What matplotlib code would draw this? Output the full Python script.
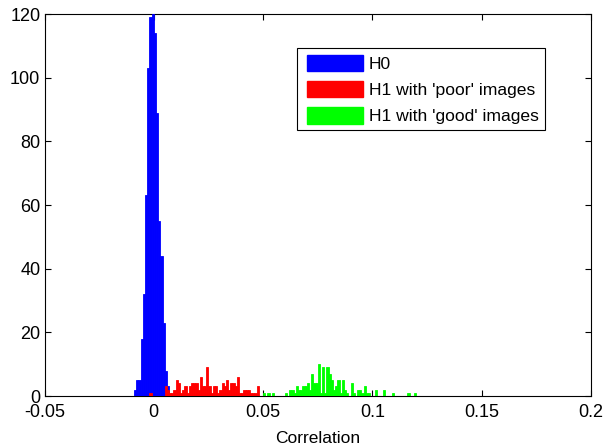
import numpy as np
import matplotlib
matplotlib.use('Agg')
import matplotlib.pyplot as plt
from matplotlib.patches import Patch, Rectangle
from matplotlib.legend_handler import HandlerPatch

plt.rcParams['font.family'] = ['Liberation Sans', 'DejaVu Sans']

# 直方图数据 (bin 宽 0.001, 每组给出第一个 bin 的左边界)
bin_width = 0.001
grid_start = -0.020
grid_stop = 0.150

h0_start = -0.009
h0_counts = [2, 5, 5, 18, 32, 63, 103, 119, 120, 114, 89, 55, 44, 23, 8, 3]

poor_start = -0.002
poor_counts = [1, 0, 0, 0, 0, 0, 0,
               3, 2, 1, 1, 2, 5, 4, 1, 2, 3, 1, 3, 4, 4, 4, 2, 6, 3, 3, 9, 3,
               1, 3, 3, 1, 2, 4, 3, 5, 2, 4, 4, 3, 6, 1, 1, 2, 2, 2, 1, 1, 1, 3]

good_start = 0.050
good_counts = [1, 0, 1, 0, 1, 0, 0, 0, 0, 0, 1, 0, 2, 2, 1, 3, 2, 2, 3, 3,
               4, 2, 7, 4, 4, 10, 1, 9, 1, 9, 7, 5, 2, 3, 5, 1, 5, 2, 1, 0,
               4, 1, 0, 2, 2, 1, 3, 1, 1, 0, 0, 2, 0, 0, 0, 2, 0, 0, 0, 1,
               0, 0, 0, 0, 0, 0, 1, 0, 0, 1]

labels = ['H0', "H1 with 'poor' images", "H1 with 'good' images"]
colors = ['#0000ff', '#ff0000', '#00ff00']

xticks = [-0.05, 0, 0.05, 0.1, 0.15, 0.2]
xticklabels = ['-0.05', '0', '0.05', '0.1', '0.15', '0.2']
yticks = [0, 20, 40, 60, 80, 100, 120]


def on_grid(start, counts):
    n = int(round((grid_stop - grid_start) / bin_width))
    full = np.zeros(n)
    i0 = int(round((start - grid_start) / bin_width))
    full[i0:i0 + len(counts)] = counts
    return full


def shifted_patch(legend, orig_handle, xdescent, ydescent, width, height, fontsize):
    # 图例色块往右挪一点, 左边留白和 MATLAB 一样
    shift = 3.0
    return Rectangle((-xdescent + shift, -ydescent), width - shift, height)


n_bins = int(round((grid_stop - grid_start) / bin_width))
left_edges = grid_start + bin_width * np.arange(n_bins)

fig = plt.figure(figsize=(6.03, 4.45), dpi=100)
ax = fig.add_axes([0.0738, 0.110, 0.9062, 0.8585])

series = [(h0_start, h0_counts), (poor_start, poor_counts), (good_start, good_counts)]
for (start, counts), c in zip(series, colors):
    ax.bar(left_edges, on_grid(start, counts), width=bin_width, align='edge',
           color=c, edgecolor=c, linewidth=0.6, zorder=3)

ax.set_xlim(-0.05, 0.2)
ax.set_ylim(0, 120)
ax.set_xticks(xticks)
ax.set_xticklabels(xticklabels)
ax.set_yticks(yticks)
ax.tick_params(direction='in', top=True, right=True, length=4, labelsize=13)
ax.tick_params(axis='x', pad=6)
ax.tick_params(axis='y', pad=3)
for s in ax.spines.values():
    s.set_linewidth(0.8)
ax.set_xlabel('Correlation', fontsize=12.5, labelpad=7)

handles = [Patch(facecolor=c, edgecolor=c) for c in colors]
leg = ax.legend(handles, labels, loc='upper left', bbox_to_anchor=(0.462, 0.91),
                fontsize=12.6, handlelength=3.45, handleheight=1.1, labelspacing=0.5,
                handletextpad=0.3, borderpad=0.35, fancybox=False, framealpha=1,
                edgecolor='black', borderaxespad=0,
                handler_map={Patch: HandlerPatch(patch_func=shifted_patch)})
leg.get_frame().set_linewidth(0.8)

plt.savefig('out.png', dpi=100)
